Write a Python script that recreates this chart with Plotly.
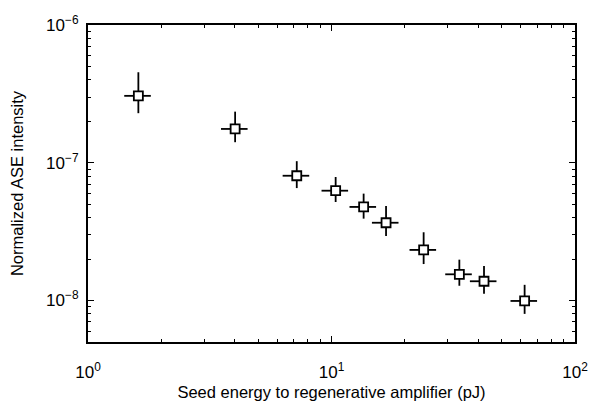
import plotly.graph_objects as go

# Data
seed_energy = [1.61, 4.02, 7.20, 10.4, 13.55, 16.75, 23.9, 33.5, 42.3, 62.1]
ase_intensity = [3.06e-7, 1.76e-7, 8.05e-8, 6.27e-8, 4.78e-8, 3.67e-8, 2.33e-8, 1.55e-8, 1.38e-8, 9.93e-9]
ase_upper = [4.54e-7, 2.35e-7, 1.027e-7, 7.88e-8, 5.97e-8, 4.85e-8, 3.13e-8, 1.98e-8, 1.78e-8, 1.30e-8]
ase_lower = [2.29e-7, 1.41e-7, 6.55e-8, 5.19e-8, 3.93e-8, 2.94e-8, 1.84e-8, 1.28e-8, 1.12e-8, 8.0e-9]
x_err_percent = 12.5

x_tickvals = [1, 10, 100]
x_ticktext = ["10<sup>0</sup>", "10<sup>1</sup>", "10<sup>2</sup>"]
y_tickvals = [1e-8, 1e-7, 1e-6]
y_ticktext = ["10<sup>\u22128</sup>", "10<sup>\u22127</sup>", "10<sup>\u22126</sup>"]

err_plus = [u - v for u, v in zip(ase_upper, ase_intensity)]
err_minus = [v - l for v, l in zip(ase_intensity, ase_lower)]

FONT = "Liberation Sans, Arial, sans-serif"

fig = go.Figure()
fig.add_trace(go.Scatter(
    x=seed_energy, y=ase_intensity, mode="markers",
    marker=dict(symbol="square", size=9, color="white",
                line=dict(color="black", width=1.8)),
    error_y=dict(type="data", array=err_plus, arrayminus=err_minus,
                 symmetric=False, color="black", thickness=1.8, width=0),
    error_x=dict(type="percent", value=x_err_percent, color="black",
                 thickness=1.8, width=0),
    showlegend=False,
))

axis_common = dict(
    showline=True, linecolor="black", linewidth=2, mirror="ticks",
    ticks="inside", ticklen=6, tickwidth=1, tickcolor="black",
    showgrid=False, zeroline=False,
    tickfont=dict(family=FONT, size=17, color="black"),
    minor=dict(ticks="inside", ticklen=3, tickwidth=1, tickcolor="black",
               dtick="D1", showgrid=False),
)

fig.update_xaxes(
    type="log", range=[0, 2], tickvals=x_tickvals, ticktext=x_ticktext,
    ticklabelstandoff=14,
    title=dict(text="Seed energy to regenerative amplifier (pJ)",
               font=dict(family=FONT, size=16.5, color="black"),
               standoff=5),
    **axis_common,
)
fig.update_yaxes(
    type="log", range=[-8.30103, -6], tickvals=y_tickvals, ticktext=y_ticktext,
    ticklabelstandoff=4,
    title=dict(text="Normalized ASE intensity",
               font=dict(family=FONT, size=16.5, color="black"),
               standoff=18),
    **axis_common,
)

fig.update_layout(
    width=600, height=413,
    margin=dict(l=88, r=12, t=25, b=71),
    paper_bgcolor="white", plot_bgcolor="white",
)

fig.write_html("out.html")
